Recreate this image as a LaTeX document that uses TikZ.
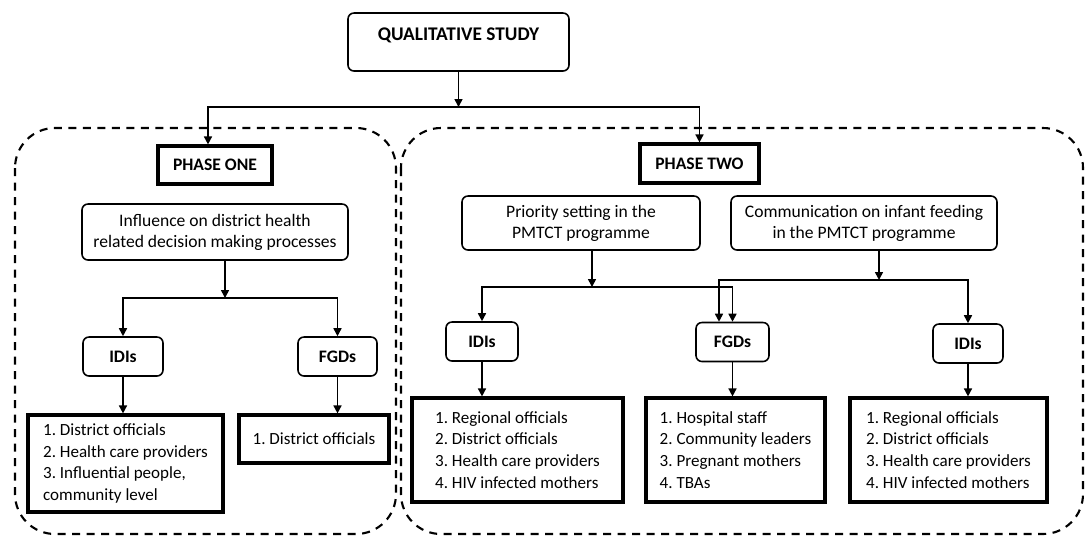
\documentclass[tikz,border=0pt]{standalone}
\usepackage{fontspec}
\setmainfont{Carlito}
\usetikzlibrary{arrows.meta}
\frenchspacing

\tikzset{
  rbox/.style={draw, rounded corners=1.2mm, line width=0.9pt, align=center,
    font=\fontsize{10}{12}\selectfont},
  sbox/.style={rbox, minimum height=7.8mm, font=\bfseries\fontsize{10}{12}\selectfont},
  hbox/.style={draw, line width=1.8pt, font=\bfseries\fontsize{10}{12}\selectfont},
  lbox/.style={draw, line width=1.8pt, align=left,
    font=\fontsize{9.7}{12.4}\selectfont},
  arr/.style={-{Triangle[length=1.6mm,width=1.6mm]}, line width=0.9pt},
  area/.style={line width=1.2pt, rounded corners=8mm, dash pattern=on 1.6mm off 1.3mm}
}

\begin{document}
\begin{tikzpicture}[x=0.2mm, y=-0.2mm]
  \useasboundingbox (0,0) rectangle (1085,537);

  % Phase areas
  \draw[area] (15,128) rectangle (396,534);
  \draw[area] (401,128) rectangle (1083,534);

  % Study and phases
  \node[rbox, minimum width=44.2mm, inner ysep=0pt, text height=15.4pt, text depth=17.6pt,
    font=\bfseries\fontsize{11}{13}\selectfont] (study) at (458.5,42) {QUALITATIVE STUDY};
  \node[hbox, minimum width=22.8mm, minimum height=7.6mm] (phase1) at (215,165) {PHASE ONE};
  \node[hbox, minimum width=23.8mm, minimum height=7.8mm] (phase2) at (699.5,163.5) {PHASE TWO};
  \coordinate (s0) at (458.5,107);
  \draw[arr] (study) -- (s0);
  \draw[arr] (s0) -| ([xshift=-1.4mm]phase1.north);
  \draw[arr] (s0) -| (phase2);

  % Phase one
  \node[rbox, minimum width=53.2mm, minimum height=11.2mm] (infl) at (215,232)
    {Influence on district health\\related decision making processes};
  \coordinate (b1) at (225,298);
  \draw[arr] (infl.south -| b1) -- (b1);
  \node[sbox, minimum width=16mm] (idi1) at (123,356.5) {IDIs};
  \node[sbox, minimum width=15.8mm] (fgd1) at (337.5,356.5) {FGDs};
  \draw[arr] (b1) -| (idi1);
  \draw[arr] (b1) -| (fgd1);
  \node[lbox, minimum width=39mm, minimum height=19.4mm] (list1) at (125.5,463.5)
    {1. District officials\\2. Health care providers\\3. Influential people,\\community level};
  \node[lbox, minimum width=30mm, minimum height=9.6mm] (list2) at (314,439)
    {1. District officials};
  \draw[arr] (idi1) -- (idi1 |- list1.north);
  \draw[arr] (fgd1) -- (fgd1 |- list2.north);

  % Phase two
  \node[rbox, minimum width=47.6mm, minimum height=10.8mm] (prio) at (581,223)
    {Priority setting in the\\PMTCT programme};
  \node[rbox, minimum width=53.2mm, minimum height=10.8mm] (comm) at (864,223)
    {Communication on infant feeding\\in the PMTCT programme};
  \coordinate (b2) at (592,287);
  \coordinate (b3) at (879,280);
  \draw[arr] (prio.south -| b2) -- (b2);
  \draw[arr] (comm.south -| b3) -- (b3);
  \node[sbox, minimum width=14.4mm] (idi2) at (482,341.5) {IDIs};
  \node[sbox, minimum width=14.6mm] (fgd2) at (732.5,342) {FGDs};
  \node[sbox, minimum width=14mm] (idi3) at (968,343.5) {IDIs};
  \draw[arr] (b2) -| (idi2);
  \draw[arr] (b2) -| (fgd2);
  \draw[arr] (b3) -| ([xshift=-2.7mm]fgd2.north);
  \draw[arr] (b3) -| (idi3);
  \node[lbox, minimum width=42.2mm, minimum height=20.8mm] (list3) at (517.5,450)
    {1. Regional officials\\2. District officials\\3. Health care providers\\4. HIV infected mothers};
  \node[lbox, minimum width=35.8mm, minimum height=20.8mm] (list4) at (735.5,450)
    {1. Hospital staff\\2. Community leaders\\3. Pregnant mothers\\4. TBAs};
  \node[lbox, minimum width=39.4mm, minimum height=20.8mm] (list5) at (948.5,450)
    {1. Regional officials\\2. District officials\\3. Health care providers\\4. HIV infected mothers};
  \draw[arr] (idi2) -- (idi2 |- list3.north);
  \draw[arr] (fgd2) -- (fgd2 |- list4.north);
  \draw[arr] (idi3) -- (idi3 |- list5.north);
\end{tikzpicture}
\end{document}
